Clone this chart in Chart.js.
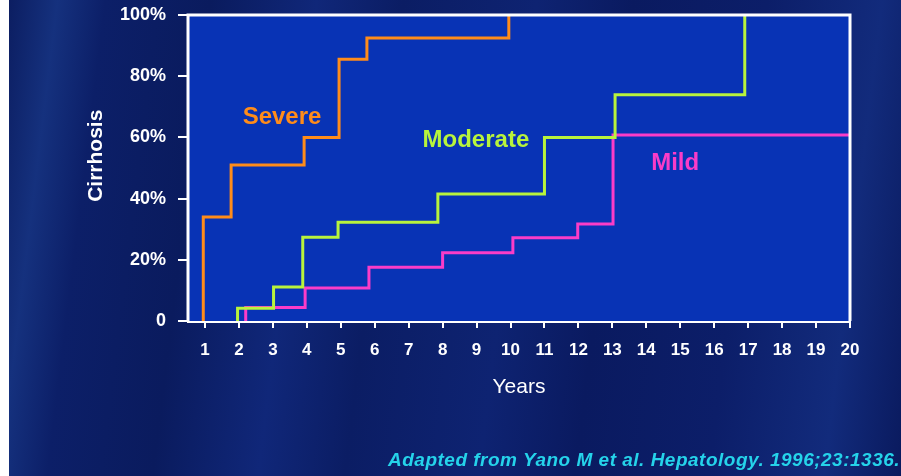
<!DOCTYPE html>
<html lang="en">
<head>
<meta charset="UTF-8">
<script src="https://cdn.jsdelivr.net/npm/chart.js"></script>
<style>
    body { margin: 0; width: 901px; height: 476px; overflow: hidden; position: relative;
        background: linear-gradient(97deg, #0a1a5c 0%, #15317e 6%, #0c1f68 11%, #0a1b5e 22%, #102779 33%, #0b1d64 42%, #0e2372 56%, #0a1a60 66%, #0c1e69 80%, #122b7c 92%, #0a1a5e 100%);
        font-family: 'Liberation Sans', Arial, sans-serif; }
    .strip { position: absolute; left: 0; top: 0; width: 9px; height: 476px; background: #fff; }
    .wrap { position: absolute; left: 0; top: 0; width: 901px; height: 476px; }
    .source { position: absolute; left: 388px; top: 450px; line-height: 20px; font-size: 19px; letter-spacing: 0.5px;
        font-weight: bold; font-style: italic; color: #25d3ea; white-space: nowrap; }
</style>
</head>
<body>
<div class="strip"></div>
<div class="wrap"><canvas id="kmChart"></canvas></div>
<div class="source">Adapted from Yano M et al. Hepatology. 1996;23:1336.</div>
<script>
// cumulative incidence of cirrhosis (%), step times in years
const yearTicks = [1,2,3,4,5,6,7,8,9,10,11,12,13,14,15,16,17,18,19,20];
const yTickLabels = ['0', '20%', '40%', '60%', '80%', '100%'];

const severeYears = [0.95, 1.77, 3.92, 4.95, 5.77, 9.95];
const severeRates = [34, 51, 60, 85.5, 92.5, 100];

const moderateYears = [1.96, 3.02, 3.88, 4.92, 7.86, 11.0, 13.08, 16.9];
const moderateRates = [4.2, 11.1, 27.4, 32.3, 41.5, 60, 73.9, 100];

const mildYears = [2.2, 3.95, 5.83, 8.0, 10.07, 11.98, 13.02, 20];
const mildRates = [4.4, 10.8, 17.6, 22.3, 27.2, 31.7, 60.8, 60.8];

function steps(years, rates) {
    const pts = [{ x: years[0], y: 0 }];
    years.forEach((t, i) => pts.push({ x: t, y: rates[i] }));
    return pts;
}

const FONT = "'Liberation Sans', Arial, sans-serif";
Chart.defaults.font.family = FONT;

// text placed next to each curve (in data units)
const curveLabels = [
    { text: 'Severe', x: 3.27, y: 66.5, color: '#ff8c1a' },
    { text: 'Moderate', x: 8.98, y: 59, color: '#b8f43c' },
    { text: 'Mild', x: 14.85, y: 51.5, color: '#fa3cc8' }
];

const plotFrame = {
    id: 'plotFrame',
    beforeDatasetsDraw(chart) {
        const a = chart.chartArea, ctx = chart.ctx;
        ctx.save();
        ctx.fillStyle = '#0833b5';
        ctx.fillRect(a.left, a.top, a.right - a.left, a.bottom - a.top);
        ctx.restore();
    },
    afterDraw(chart) {
        const a = chart.chartArea, ctx = chart.ctx;
        const xs = chart.scales.x, ys = chart.scales.y;
        ctx.save();
        ctx.strokeStyle = '#ffffff';
        ctx.lineWidth = 3;
        ctx.beginPath();
        ctx.moveTo(a.left, a.bottom);
        ctx.lineTo(a.left, a.top);
        ctx.lineTo(a.right, a.top);
        ctx.lineTo(a.right, a.bottom);
        ctx.stroke();
        ctx.font = 'bold 24px ' + FONT;
        ctx.textAlign = 'center';
        ctx.textBaseline = 'middle';
        curveLabels.forEach(l => {
            ctx.fillStyle = l.color;
            ctx.fillText(l.text, xs.getPixelForValue(l.x), ys.getPixelForValue(l.y));
        });
        // y axis title, sits a bit above the middle of the axis
        ctx.translate(a.left - 92, ys.getPixelForValue(54));
        ctx.rotate(-Math.PI / 2);
        ctx.fillStyle = '#ffffff';
        ctx.font = 'bold 21px ' + FONT;
        ctx.fillText('Cirrhosis', 0, 0);
        ctx.restore();
    }
};

new Chart(document.getElementById('kmChart'), {
    type: 'line',
    data: {
        datasets: [
            { label: 'Severe', data: steps(severeYears, severeRates), borderColor: '#ff8c1a' },
            { label: 'Moderate', data: steps(moderateYears, moderateRates), borderColor: '#b8f43c' },
            { label: 'Mild', data: steps(mildYears, mildRates), borderColor: '#fa3cc8' }
        ]
    },
    options: {
        responsive: true,
        maintainAspectRatio: false,
        animation: false,
        layout: { padding: { left: 0, top: 15, right: 51, bottom: 0 } },
        elements: {
            line: { stepped: 'before', borderWidth: 3, tension: 0 },
            point: { radius: 0 }
        },
        plugins: { legend: { display: false }, tooltip: { enabled: false } },
        scales: {
            x: {
                type: 'linear', min: 0.5, max: 20,
                afterBuildTicks: s => { s.ticks = yearTicks.map(v => ({ value: v })); },
                afterFit: s => { s.height = 155; },
                ticks: { color: '#ffffff', font: { size: 17, weight: 'bold' }, padding: 12, autoSkip: false, maxRotation: 0 },
                grid: { drawOnChartArea: false, color: '#ffffff', lineWidth: 2, tickLength: 7 },
                border: { color: '#ffffff', width: 3 },
                title: { display: true, text: 'Years', color: '#ffffff', font: { size: 21, weight: 'normal' }, padding: { top: 0, bottom: 76 } }
            },
            y: {
                min: 0, max: 100,
                afterFit: s => { s.width = 188; s.paddingTop = 0; s.paddingBottom = 0; },
                ticks: { stepSize: 20, color: '#ffffff', font: { size: 18, weight: 'bold' }, padding: 12,
                    callback: (v, i) => yTickLabels[i] },
                grid: { drawOnChartArea: false, color: '#ffffff', lineWidth: 2, tickLength: 10 },
                border: { color: '#ffffff', width: 3 }
            }
        }
    },
    plugins: [plotFrame]
});
</script>
</body>
</html>
